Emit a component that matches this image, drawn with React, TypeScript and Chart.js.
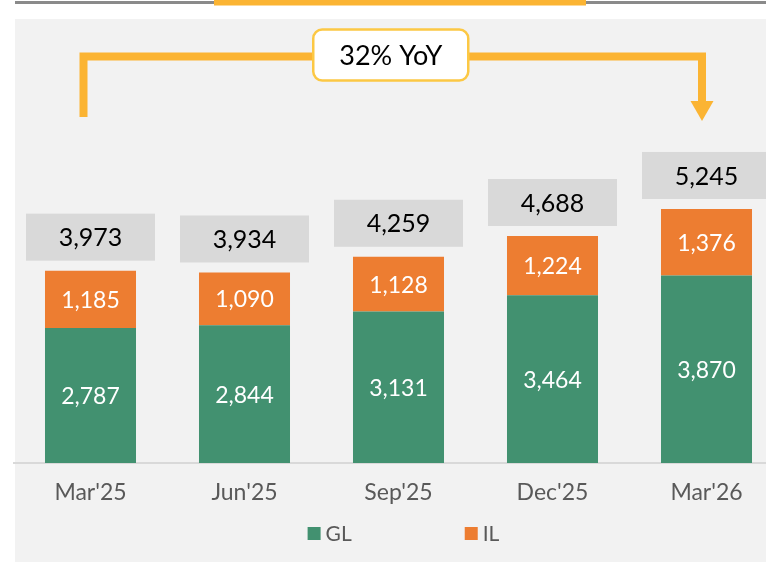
import React, { useEffect, useRef } from 'react';
import { Chart, registerables } from 'chart.js';

Chart.register(...registerables);

const categories = ["Mar'25", "Jun'25", "Sep'25", "Dec'25", "Mar'26"];
const glValues = [2787, 2844, 3131, 3464, 3870];
const ilValues = [1185, 1090, 1128, 1224, 1376];
const totalValues = [3973, 3934, 4259, 4688, 5245];
const seriesNames = ['GL', 'IL'];
const yoyLabel = '32% YoY';

const FONT = 'Lato, "Open Sans", sans-serif';
const GREEN = '#429170';
const ORANGE = '#ed7d31';
const YELLOW = '#fbb433';
const fmt = (v: number) => v.toLocaleString('en-US');

const decorPlugin = {
  id: 'decor',
  beforeDraw(chart: any) {
    const { ctx, width, height } = chart;
    ctx.save();
    ctx.fillStyle = '#ffffff';
    ctx.fillRect(0, 0, width, height);
    ctx.fillStyle = '#f2f2f2';
    ctx.fillRect(15, 19, width - 15, height - 19);
    ctx.fillStyle = '#8a8a8a';
    ctx.fillRect(15, 1, width - 15, 3);
    ctx.fillStyle = YELLOW;
    ctx.fillRect(214, 0, 372, 5.5);
    ctx.restore();
  },
  afterDatasetsDraw(chart: any) {
    const ctx = chart.ctx;
    const glMeta = chart.getDatasetMeta(0);
    const ilMeta = chart.getDatasetMeta(1);
    ctx.save();
    ctx.textAlign = 'center';
    ctx.textBaseline = 'middle';
    // in-bar value labels
    ctx.fillStyle = '#ffffff';
    ctx.font = `23px ${FONT}`;
    [glMeta, ilMeta].forEach((meta: any, di: number) => {
      const vals = chart.data.datasets[di].data;
      meta.data.forEach((el: any, i: number) => {
        const { x, y, base } = el.getProps(['x', 'y', 'base'], true);
        ctx.fillText(fmt(vals[i]), x, (y + base) / 2 + 1);
      });
    });
    // total boxes
    ilMeta.data.forEach((el: any, i: number) => {
      const { x, y } = el.getProps(['x', 'y'], true);
      const bw = 129;
      const bh = 47;
      const bottom = y - 10;
      ctx.fillStyle = '#d9d9d9';
      ctx.fillRect(x - bw / 2, bottom - bh, bw, bh);
      ctx.fillStyle = '#000000';
      ctx.font = `25px ${FONT}`;
      ctx.fillText(fmt(totalValues[i]), x, bottom - bh / 2 + 1);
    });
    // YoY bracket
    const x0 = glMeta.data[0].x - 7;
    const x1 = glMeta.data[glMeta.data.length - 1].x - 4.5;
    const yH = 56.5;
    ctx.strokeStyle = YELLOW;
    ctx.lineWidth = 8;
    ctx.lineCap = 'butt';
    ctx.lineJoin = 'miter';
    ctx.beginPath();
    ctx.moveTo(x0, 117);
    ctx.lineTo(x0, yH);
    ctx.lineTo(x1, yH);
    ctx.lineTo(x1, 101);
    ctx.stroke();
    ctx.fillStyle = YELLOW;
    ctx.beginPath();
    ctx.moveTo(x1 - 11.5, 101);
    ctx.lineTo(x1 + 11.5, 101);
    ctx.lineTo(x1, 121);
    ctx.closePath();
    ctx.fill();
    // YoY box
    const cx = (x0 + x1) / 2 - 2;
    const bw = 155;
    const bh = 51;
    const bx = cx - bw / 2;
    const by = 29.5;
    ctx.beginPath();
    ctx.roundRect(bx, by, bw, bh, 9);
    ctx.fillStyle = '#ffffff';
    ctx.fill();
    ctx.lineWidth = 2.5;
    ctx.strokeStyle = '#fcc844';
    ctx.stroke();
    ctx.fillStyle = '#000000';
    ctx.font = `27px ${FONT}`;
    ctx.fillText(yoyLabel, cx, by + bh / 2 + 1);
    ctx.restore();
  },
  afterDraw(chart: any) {
    const ctx = chart.ctx;
    const area = chart.chartArea;
    ctx.save();
    ctx.font = `21px ${FONT}`;
    ctx.textBaseline = 'middle';
    ctx.textAlign = 'left';
    const box = 13;
    const gapText = 5;
    const gapItem = 113;
    const items = chart.data.datasets.map((d: any) => ({
      label: d.label,
      color: d.backgroundColor,
      w: box + gapText + ctx.measureText(d.label).width,
    }));
    const total = items.reduce((s: number, it: any) => s + it.w, 0) + gapItem * (items.length - 1);
    let x = (area.left + area.right) / 2 - total / 2 + 5;
    const yTop = 527;
    items.forEach((it: any) => {
      ctx.fillStyle = it.color;
      ctx.fillRect(x, yTop, box, box);
      ctx.fillStyle = '#595959';
      ctx.fillText(it.label, x + box + gapText, yTop + box / 2 + 1);
      x += it.w + gapItem;
    });
    ctx.restore();
  },
};

export default function App() {
  const canvasRef = useRef<HTMLCanvasElement | null>(null);

  useEffect(() => {
    document.body.style.margin = '0';
    const canvas = canvasRef.current;
    if (!canvas) return;
    const chart = new Chart(canvas, {
      type: 'bar',
      data: {
        labels: categories,
        datasets: [
          {
            label: seriesNames[0],
            data: glValues,
            backgroundColor: GREEN,
            borderWidth: 0,
            barPercentage: 0.591,
            categoryPercentage: 1,
          },
          {
            label: seriesNames[1],
            data: ilValues,
            backgroundColor: ORANGE,
            borderWidth: 0,
            barPercentage: 0.591,
            categoryPercentage: 1,
          },
        ],
      },
      options: {
        responsive: false,
        animation: false,
        devicePixelRatio: 1,
        layout: { padding: { left: 13.5, right: 13.5, top: 27.2, bottom: 0 } },
        plugins: {
          legend: { display: false },
          tooltip: { enabled: false },
          title: { display: false },
        },
        scales: {
          x: {
            stacked: true,
            grid: { display: false, drawTicks: false },
            border: { display: true, color: '#d9d9d9', width: 2 },
            ticks: {
              color: '#595959',
              font: { family: FONT, size: 23 },
              padding: 16,
            },
            afterFit: (s: any) => {
              s.height = 99;
            },
          },
          y: {
            stacked: true,
            display: false,
            min: 0,
            max: 9000,
          },
        },
      },
      plugins: [decorPlugin],
    });
    return () => chart.destroy();
  }, []);

  return (
    <div
      style={{
        position: 'fixed',
        left: 0,
        top: 0,
        width: 766,
        height: 562,
        overflow: 'hidden',
        background: '#ffffff',
      }}
    >
      <canvas ref={canvasRef} width={797} height={562} style={{ width: 797, height: 562, display: 'block' }} />
    </div>
  );
}
